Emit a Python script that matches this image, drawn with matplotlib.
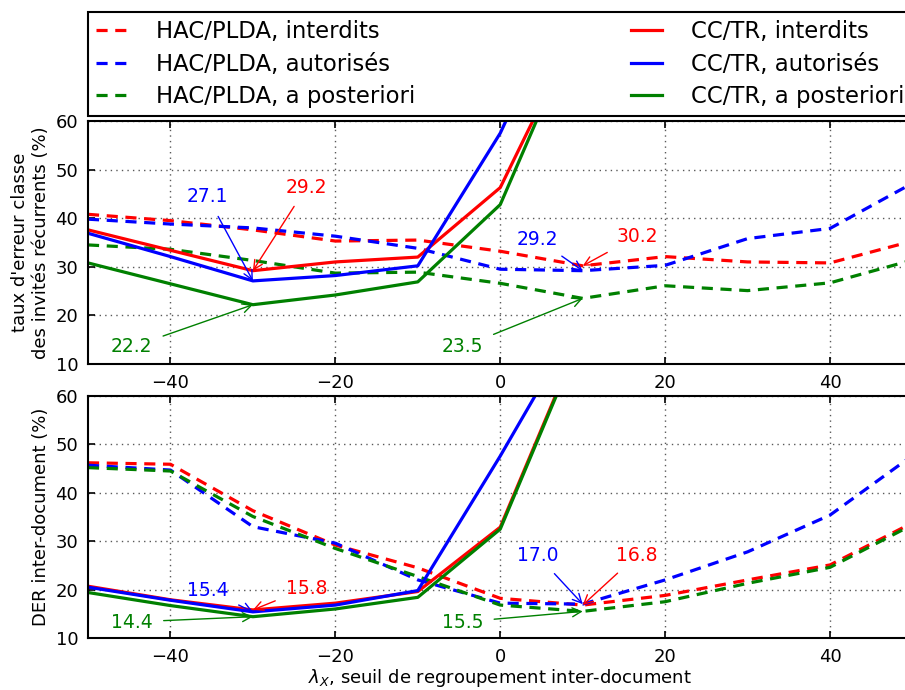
import numpy as np
import matplotlib
matplotlib.use("Agg")
import matplotlib.pyplot as plt

plt.rcParams['font.family'] = ['DejaVu Sans']
plt.rcParams['mathtext.fontset'] = 'dejavusans'
plt.rcParams['lines.scale_dashes'] = False

nan = np.nan
x = [-50, -40, -30, -20, -10, 0, 10, 20, 30, 40, 50]

# top panel: taux d'erreur classe des invités récurrents (%)
hac_int_top = [40.8, 39.5, 37.6, 35.3, 35.5, 33.2, 30.2, 32.1, 31.0, 30.8, 35.3]
hac_aut_top = [39.8, 38.8, 38.0, 36.3, 33.8, 29.5, 29.2, 30.3, 35.8, 37.9, 47.2]
hac_post_top = [34.5, 33.6, 31.3, 28.7, 28.9, 26.6, 23.5, 26.1, 25.1, 26.7, 31.4]
cc_int_top = [37.6, 33.4, 29.2, 31.0, 32.0, 46.3, 81.0, nan, nan, nan, nan]
cc_aut_top = [36.9, 32.1, 27.1, 28.2, 30.2, 57.5, 94.0, nan, nan, nan, nan]
cc_post_top = [30.8, 26.5, 22.2, 24.2, 26.9, 42.8, 82.0, nan, nan, nan, nan]

# bottom panel: DER inter-document (%)
hac_int_bot = [46.2, 45.9, 36.3, 29.2, 24.5, 18.2, 16.8, 18.8, 22.0, 25.1, 33.8]
hac_aut_bot = [45.7, 44.7, 33.0, 29.6, 22.0, 17.2, 17.0, 22.0, 27.8, 35.4, 47.7]
hac_post_bot = [45.2, 44.5, 35.1, 28.5, 22.7, 16.8, 15.5, 17.5, 21.3, 24.6, 33.4]
cc_int_bot = [20.7, 17.9, 15.8, 17.2, 19.6, 32.9, 73.4, nan, nan, nan, nan]
cc_aut_bot = [20.5, 17.8, 15.4, 16.8, 19.8, 47.6, 77.0, nan, nan, nan, nan]
cc_post_bot = [19.4, 16.7, 14.4, 16.0, 18.4, 32.5, 73.0, nan, nan, nan, nan]

labels = ["HAC/PLDA, interdits", "HAC/PLDA, autorisés", "HAC/PLDA, a posteriori",
          "CC/TR, interdits", "CC/TR, autorisés", "CC/TR, a posteriori"]
colors = ['#ff0000', '#0000ff', '#008000']

W, H = 905, 690
fig = plt.figure(figsize=(W / 100, H / 100), dpi=100)
left = 88 / W
width = (912.5 - 88) / W
ax1 = fig.add_axes([left, 1 - 364 / H, width, (364 - 121) / H])
ax2 = fig.add_axes([left, 1 - 638 / H, width, (638 - 396) / H])

dash = (0, (8, 5.5))
lw = 2.3

def draw(ax, hac, cc):
    handles = []
    for vals, c in zip(hac, colors):
        h, = ax.plot(x, vals, color=c, lw=lw, linestyle=dash)
        handles.append(h)
    for vals, c in zip(cc, colors):
        h, = ax.plot(x, vals, color=c, lw=lw, linestyle='-')
        handles.append(h)
    ax.set_xlim(-50, 50)
    ax.set_ylim(10, 60)
    ax.set_xticks([-40, -20, 0, 20, 40])
    ax.set_yticks([10, 20, 30, 40, 50, 60])
    ax.grid(True, color='0.35', linestyle=(0, (1, 3)), linewidth=1.0)
    ax.tick_params(direction='in', top=True, right=True, length=5, width=1.2,
                   labelsize=13, pad=7)
    for s in ax.spines.values():
        s.set_linewidth(1.5)
    return handles

handles = draw(ax1, [hac_int_top, hac_aut_top, hac_post_top],
               [cc_int_top, cc_aut_top, cc_post_top])
draw(ax2, [hac_int_bot, hac_aut_bot, hac_post_bot],
     [cc_int_bot, cc_aut_bot, cc_post_bot])

ax1.set_ylabel("taux d'erreur classe\ndes invités récurrents (%)", fontsize=13)
ax2.set_ylabel("DER inter-document (%)", fontsize=13)
ax2.set_xlabel(r"$\lambda_X$, seuil de regroupement inter-document", fontsize=13,
               labelpad=1)

def note(ax, txt, c, xy, xyt):
    ax.annotate(txt, xy=xy, xytext=xyt, color=c, fontsize=13.5,
                ha='center', va='center',
                arrowprops=dict(arrowstyle='->', color=c, lw=1.0,
                                shrinkA=6, shrinkB=0, mutation_scale=16))

note(ax1, "27.1", colors[1], (-30, 27.1), (-35.5, 44.4))
note(ax1, "29.2", colors[0], (-30, 29.2), (-23.5, 46.4))
note(ax1, "22.2", colors[2], (-30, 22.2), (-44.7, 13.5))
note(ax1, "23.5", colors[2], (10, 23.5), (-4.6, 13.5))
note(ax1, "29.2", colors[1], (10, 29.2), (4.5, 35.7))
note(ax1, "30.2", colors[0], (10, 30.2), (16.6, 36.3))

note(ax2, "15.4", colors[1], (-30, 15.4), (-35.5, 19.9))
note(ax2, "15.8", colors[0], (-30, 15.8), (-23.5, 20.3))
note(ax2, "14.4", colors[2], (-30, 14.4), (-44.7, 13.3))
note(ax2, "15.5", colors[2], (10, 15.5), (-4.6, 13.3))
note(ax2, "17.0", colors[1], (10, 17.0), (4.5, 27.1))
note(ax2, "16.8", colors[0], (10, 16.8), (16.6, 27.1))

leg = fig.legend(handles, labels, ncol=2, loc='upper left', mode='expand',
                 bbox_to_anchor=(left, 1 - 118 / H, width, (118 - 12) / H),
                 borderaxespad=0, fontsize=16.4, handlelength=1.35,
                 handletextpad=1.3, labelspacing=0.42, fancybox=False,
                 edgecolor='black', framealpha=1, borderpad=0.35)
leg.get_frame().set_linewidth(1.5)

fig.savefig("out.png", dpi=100)
